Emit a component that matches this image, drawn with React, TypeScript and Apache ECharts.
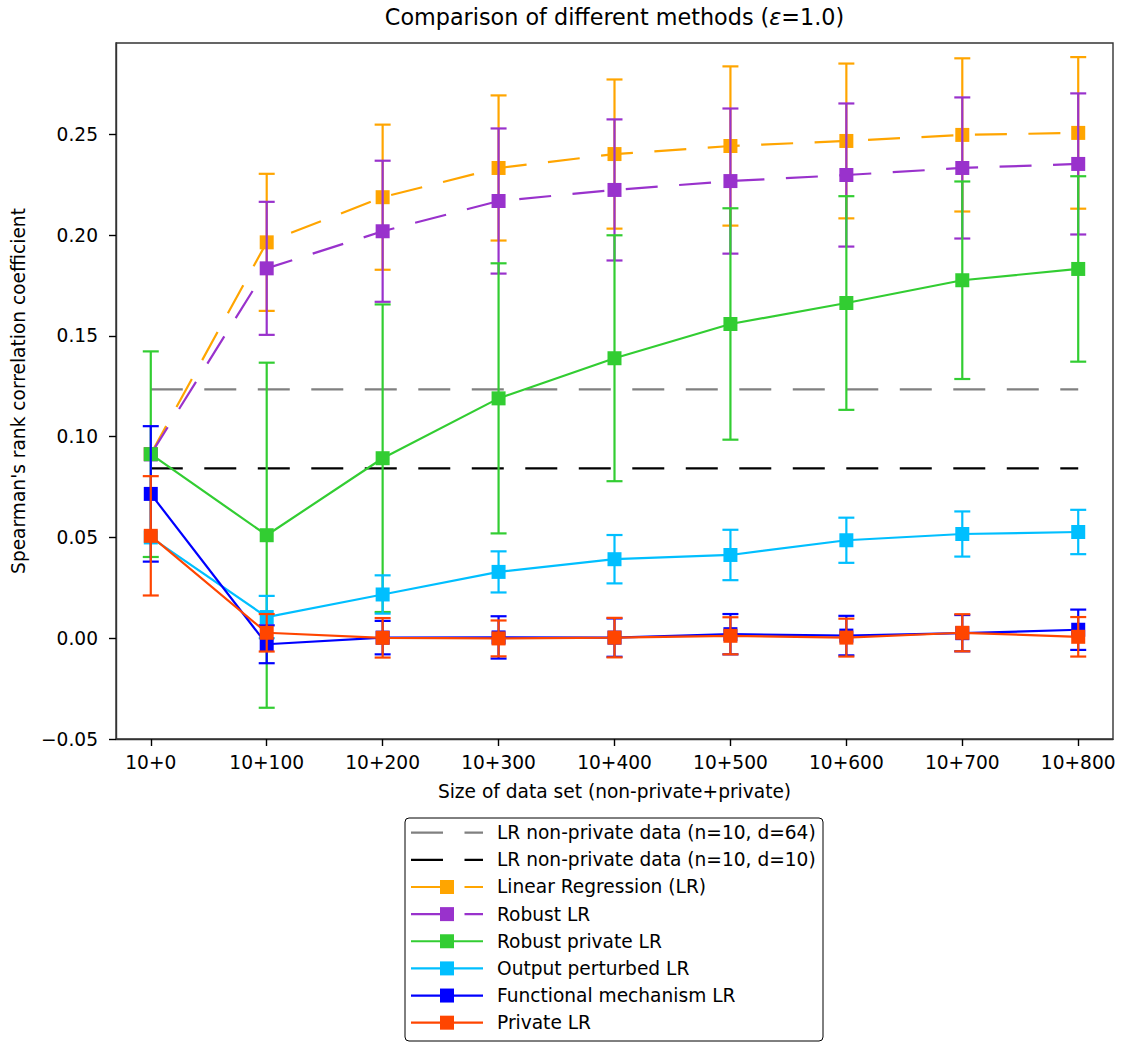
import React, { useEffect, useRef } from "react";
import * as echarts from "echarts";

const FONT = "DejaVu Sans";

const categories = ["10+0", "10+100", "10+200", "10+300", "10+400", "10+500", "10+600", "10+700", "10+800"];
const yTickValues = [-0.05, 0, 0.05, 0.1, 0.15, 0.2, 0.25];

const ref64 = 0.1235;
const ref10 = 0.0843;

const lrMean = [0.0914, 0.1964, 0.2188, 0.2333, 0.2402, 0.2442, 0.2467, 0.2497, 0.2507];
const lrErr = [0, 0.034, 0.036, 0.036, 0.037, 0.0395, 0.0384, 0.038, 0.0376];

const robustMean = [0.0912, 0.1835, 0.2019, 0.2169, 0.2224, 0.2268, 0.2298, 0.2333, 0.2353];
const robustErr = [0, 0.033, 0.035, 0.036, 0.035, 0.036, 0.0355, 0.035, 0.035];

const robustPrivMean = [0.0913, 0.0511, 0.0893, 0.119, 0.1389, 0.1559, 0.1663, 0.1776, 0.1832];
const robustPrivErr = [0.051, 0.0856, 0.0763, 0.067, 0.061, 0.0574, 0.053, 0.049, 0.046];

const outputMean = [0.05, 0.0105, 0.0217, 0.0329, 0.0392, 0.0413, 0.0486, 0.0517, 0.0527];
const outputErr = [0, 0.0105, 0.0095, 0.0102, 0.012, 0.0125, 0.0112, 0.0112, 0.011];

const funcMean = [0.0716, -0.003, 0.0003, 0.0004, 0.0003, 0.002, 0.0013, 0.0025, 0.0042];
const funcErr = [0.0336, 0.0094, 0.0083, 0.0105, 0.0095, 0.01, 0.0098, 0.009, 0.01];

const privMean = [0.0508, 0.0027, 0.0002, -0.0001, 0.0003, 0.0012, 0.0003, 0.0027, 0.0007];
const privErr = [0.0296, 0.0093, 0.0098, 0.0089, 0.0098, 0.0092, 0.0094, 0.0092, 0.0098];

const DASH = [32, 21.5];
const LW = 2.2;

type Method = { name: string; color: string; dashed: boolean; mean: number[]; err: number[] };

const refLines = [
  { name: "LR non-private data (n=10, d=64)", color: "#808080", value: ref64 },
  { name: "LR non-private data (n=10, d=10)", color: "#000000", value: ref10 },
];

const methods: Method[] = [
  { name: "Linear Regression (LR)", color: "#FFA500", dashed: true, mean: lrMean, err: lrErr },
  { name: "Robust LR", color: "#9932CC", dashed: true, mean: robustMean, err: robustErr },
  { name: "Robust private LR", color: "#32CD32", dashed: false, mean: robustPrivMean, err: robustPrivErr },
  { name: "Output perturbed LR", color: "#00BFFF", dashed: false, mean: outputMean, err: outputErr },
  { name: "Functional mechanism LR", color: "#0000FF", dashed: false, mean: funcMean, err: funcErr },
  { name: "Private LR", color: "#FF4500", dashed: false, mean: privMean, err: privErr },
];

function buildOption() {
  const xs = categories.map((_, i) => i);
  const series: any[] = [];
  refLines.forEach((r) => {
    series.push({
      type: "line",
      name: r.name,
      data: [
        [0, r.value],
        [categories.length - 1, r.value],
      ],
      symbol: "none",
      silent: true,
      lineStyle: { color: r.color, width: LW, type: DASH },
      z: 2,
    });
  });
  methods.forEach((m, k) => {
    const errData = m.mean
      .map((v, i) => [i, v - m.err[i], v + m.err[i], m.err[i]])
      .filter((d) => d[3] > 0);
    series.push({
      type: "custom",
      name: m.name + " err",
      data: errData,
      encode: { x: 0, y: [1, 2] },
      silent: true,
      z: 3 + k * 2,
      renderItem: (params: any, api: any) => {
        const x = api.value(0);
        const lo = api.coord([x, api.value(1)]);
        const hi = api.coord([x, api.value(2)]);
        const cap = 8;
        const st = { stroke: m.color, lineWidth: LW };
        return {
          type: "group",
          children: [
            { type: "line", shape: { x1: lo[0], y1: lo[1], x2: hi[0], y2: hi[1] }, style: st },
            { type: "line", shape: { x1: lo[0] - cap, y1: lo[1], x2: lo[0] + cap, y2: lo[1] }, style: st },
            { type: "line", shape: { x1: hi[0] - cap, y1: hi[1], x2: hi[0] + cap, y2: hi[1] }, style: st },
          ],
        };
      },
    });
    series.push({
      type: "line",
      name: m.name,
      data: m.mean.map((v, i) => [i, v]),
      symbol: "rect",
      symbolSize: 14,
      showAllSymbol: true,
      silent: true,
      lineStyle: { color: m.color, width: LW, type: m.dashed ? DASH : "solid" },
      itemStyle: { color: m.color },
      z: 4 + k * 2,
    });
  });

  // legend drawn as graphic
  const legendX = 405;
  const legendY = 818;
  const rowH = 27.14;
  const firstRow = 832.7;
  const graphics: any[] = [
    {
      type: "rect",
      shape: { x: legendX, y: legendY, width: 418, height: 223, r: 4 },
      style: { fill: "#fff", stroke: "#000", lineWidth: 1 },
      z: 100,
    },
  ];
  const legendItems = [
    ...refLines.map((r) => ({ name: r.name, color: r.color, dashed: true, marker: false })),
    ...methods.map((m) => ({ name: m.name, color: m.color, dashed: m.dashed, marker: true })),
  ];
  legendItems.forEach((it, i) => {
    const y = firstRow + i * rowH;
    graphics.push({
      type: "line",
      shape: { x1: 411, y1: y, x2: 483, y2: y },
      style: { stroke: it.color, lineWidth: LW, lineDash: it.dashed ? DASH : null },
      z: 101,
    });
    if (it.marker) {
      graphics.push({
        type: "rect",
        shape: { x: 447 - 7, y: y - 7, width: 14, height: 14 },
        style: { fill: it.color },
        z: 102,
      });
    }
    graphics.push({
      type: "text",
      x: 497,
      y: y,
      style: {
        text: it.name,
        font: `18.6px "${FONT}"`,
        fill: "#000",
        textVerticalAlign: "middle",
        textAlign: "left",
      },
      z: 102,
    });
  });
  graphics.push({
    type: "text",
    x: 614.5,
    y: 17,
    style: {
      text: "Comparison of different methods ({e|ε}=1.0)",
      font: `22.3px "${FONT}"`,
      fontFamily: FONT,
      fontSize: 22.3,
      fill: "#000",
      textAlign: "center",
      textVerticalAlign: "middle",
      rich: {
        e: { fontStyle: "italic", fontSize: 22.3, fontFamily: FONT, fill: "#000" },
      },
    },
    z: 102,
  });

  const axisText = { fontFamily: FONT, fontSize: 18.6, color: "#000" };

  return {
    animation: false,
    grid: {
      left: 116,
      right: 10,
      top: 43,
      bottom: 305,
      show: true,
      borderColor: "#333",
      borderWidth: 1.4,
    },
    xAxis: {
      type: "value",
      min: -0.3,
      max: 8.3,
      splitLine: { show: false },
      axisLine: { show: true, onZero: false, lineStyle: { color: "#333", width: 1.4 } },
      axisTick: { show: true, customValues: xs, length: 7, lineStyle: { color: "#000", width: 1.4 } },
      axisLabel: {
        customValues: xs,
        formatter: (v: number) => categories[Math.round(v)],
        margin: 14,
        ...axisText,
      },
      name: "Size of data set (non-private+private)",
      nameLocation: "middle",
      nameGap: 43,
      nameTextStyle: axisText,
    },
    yAxis: {
      type: "value",
      min: -0.05,
      max: 0.2953,
      splitLine: { show: false },
      axisLine: { show: true, onZero: false, lineStyle: { color: "#333", width: 1.4 } },
      axisTick: { show: true, customValues: yTickValues, length: 7, lineStyle: { color: "#000", width: 1.4 } },
      axisLabel: {
        customValues: yTickValues,
        formatter: (v: number) => (v < -1e-9 ? "\u2212" : "") + Math.abs(v).toFixed(2),
        margin: 18,
        ...axisText,
      },
      name: "Spearman's rank correlation coefficient",
      nameLocation: "middle",
      nameGap: 88,
      nameTextStyle: axisText,
    },
    graphic: graphics,
    series,
  };
}

export default function App() {
  const ref = useRef<HTMLDivElement>(null);
  useEffect(() => {
    if (!ref.current) return;
    const chart = echarts.init(ref.current, null, { renderer: "svg" });
    chart.setOption(buildOption() as any);
    return () => chart.dispose();
  }, []);
  return (
    <div
      ref={ref}
      style={{ position: "absolute", left: 0, top: 0, width: 1123, height: 1044, background: "#fff" }}
    />
  );
}
